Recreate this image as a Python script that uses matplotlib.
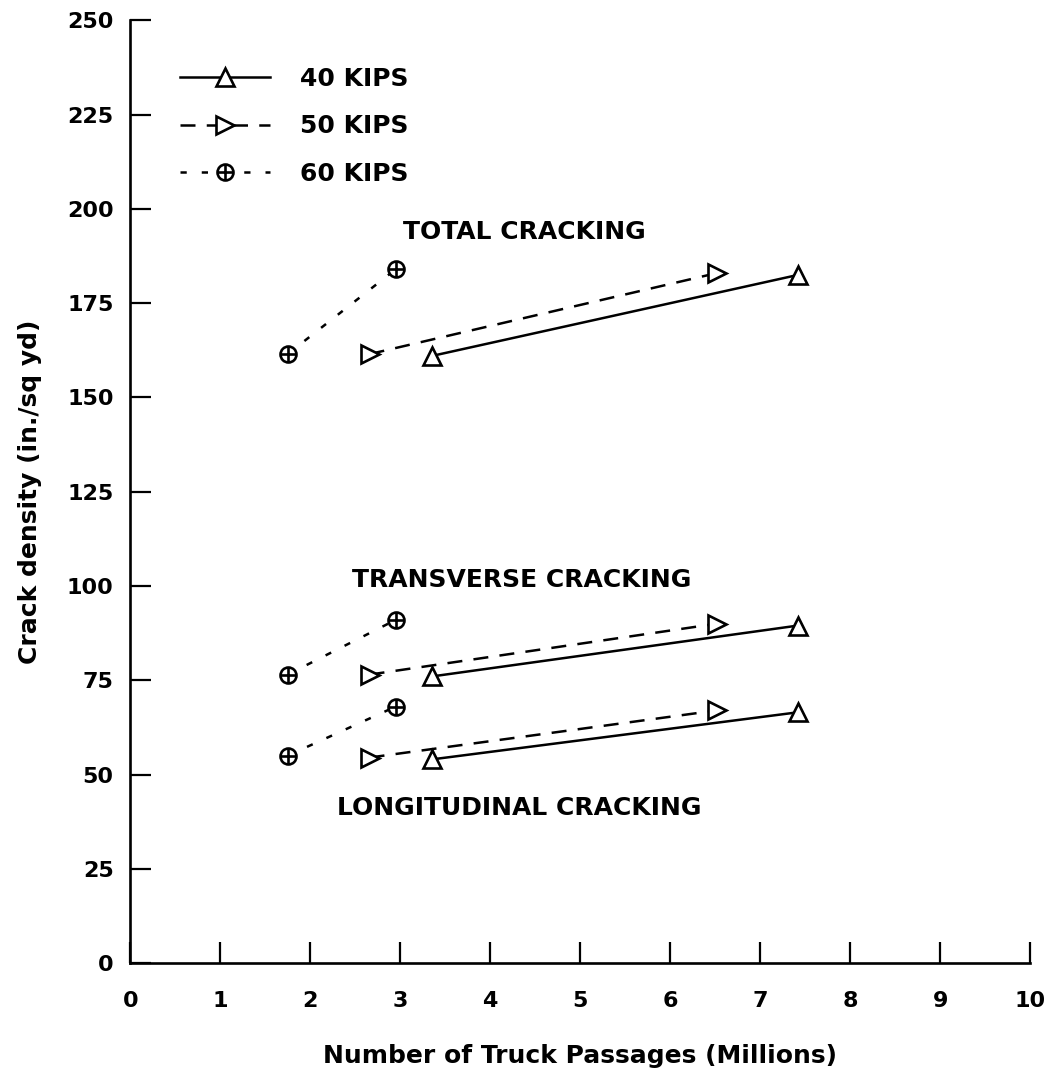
import matplotlib
matplotlib.use("Agg")
import matplotlib.pyplot as plt
from matplotlib.path import Path

plt.rcParams['font.family'] = ['DejaVu Sans']
plt.rcParams['font.weight'] = 'bold'

# Data
groups = ["TOTAL CRACKING", "TRANSVERSE CRACKING", "LONGITUDINAL CRACKING"]
x_40 = [3.35, 7.42]
x_50 = [2.66, 6.52]
x_60 = [1.75, 2.95]

total_40 = [161.0, 182.5]
total_50 = [161.5, 183.0]
total_60 = [161.5, 184.0]

trans_40 = [76.0, 89.5]
trans_50 = [76.5, 90.0]
trans_60 = [76.5, 91.0]

long_40 = [54.0, 66.5]
long_50 = [54.5, 67.0]
long_60 = [55.0, 68.0]

series_labels = ["40 KIPS", "50 KIPS", "60 KIPS"]
x_ticks = list(range(0, 11))
y_ticks = list(range(0, 251, 25))

# circle-with-cross marker
circ = Path.unit_circle()
cross = Path([(-1, 0), (1, 0), (0, -1), (0, 1)],
             [Path.MOVETO, Path.LINETO, Path.MOVETO, Path.LINETO])
oplus = Path.make_compound_path(circ, cross)

fig = plt.figure(figsize=(10.5, 10.76), dpi=100)
ax = fig.add_axes([0.124, 0.105, 0.857, 0.876])

common = dict(color='black', lw=1.8, markerfacecolor='white', markeredgecolor='black',
              markeredgewidth=1.9)
st40 = dict(linestyle='-', marker='^', markersize=12.5, **common)
st50 = dict(linestyle=(0, (6, 4.5)), marker='>', markersize=12.5, **common)
st60 = dict(linestyle=(0, (2.5, 6)), marker=oplus, markersize=11.5, **common)

for i, (y40, y50, y60) in enumerate([(total_40, total_50, total_60),
                                      (trans_40, trans_50, trans_60),
                                      (long_40, long_50, long_60)]):
    ax.plot(x_40, y40, label=series_labels[0] if i == 0 else None, **st40)
    ax.plot(x_50, y50, label=series_labels[1] if i == 0 else None, **st50)
    ax.plot(x_60, y60, label=series_labels[2] if i == 0 else None, **st60)

ax.text(4.38, 194, groups[0], ha='center', va='center', fontsize=18)
ax.text(4.35, 101.5, groups[1], ha='center', va='center', fontsize=18)
ax.text(4.32, 41, groups[2], ha='center', va='center', fontsize=18)

ax.set_xlim(0, 10)
ax.set_ylim(0, 250)
ax.set_xticks(x_ticks)
ax.set_yticks(y_ticks)
ax.tick_params(direction='in', length=15, width=1.6, labelsize=16, pad=12)
ax.tick_params(axis='x', pad=20)
for s in ['top', 'right']:
    ax.spines[s].set_visible(False)
for s in ['left', 'bottom']:
    ax.spines[s].set_linewidth(1.9)

ax.set_xlabel("Number of Truck Passages (Millions)", fontsize=18, fontweight='bold', labelpad=24)
ax.set_ylabel("Crack density (in./sq yd)", fontsize=18, fontweight='bold', labelpad=18)

leg = ax.legend(loc='upper left', bbox_to_anchor=(0.03, 0.975), frameon=False,
                fontsize=18, handlelength=3.6, handletextpad=1.2, labelspacing=0.95)

fig.savefig("out.png", dpi=100)
